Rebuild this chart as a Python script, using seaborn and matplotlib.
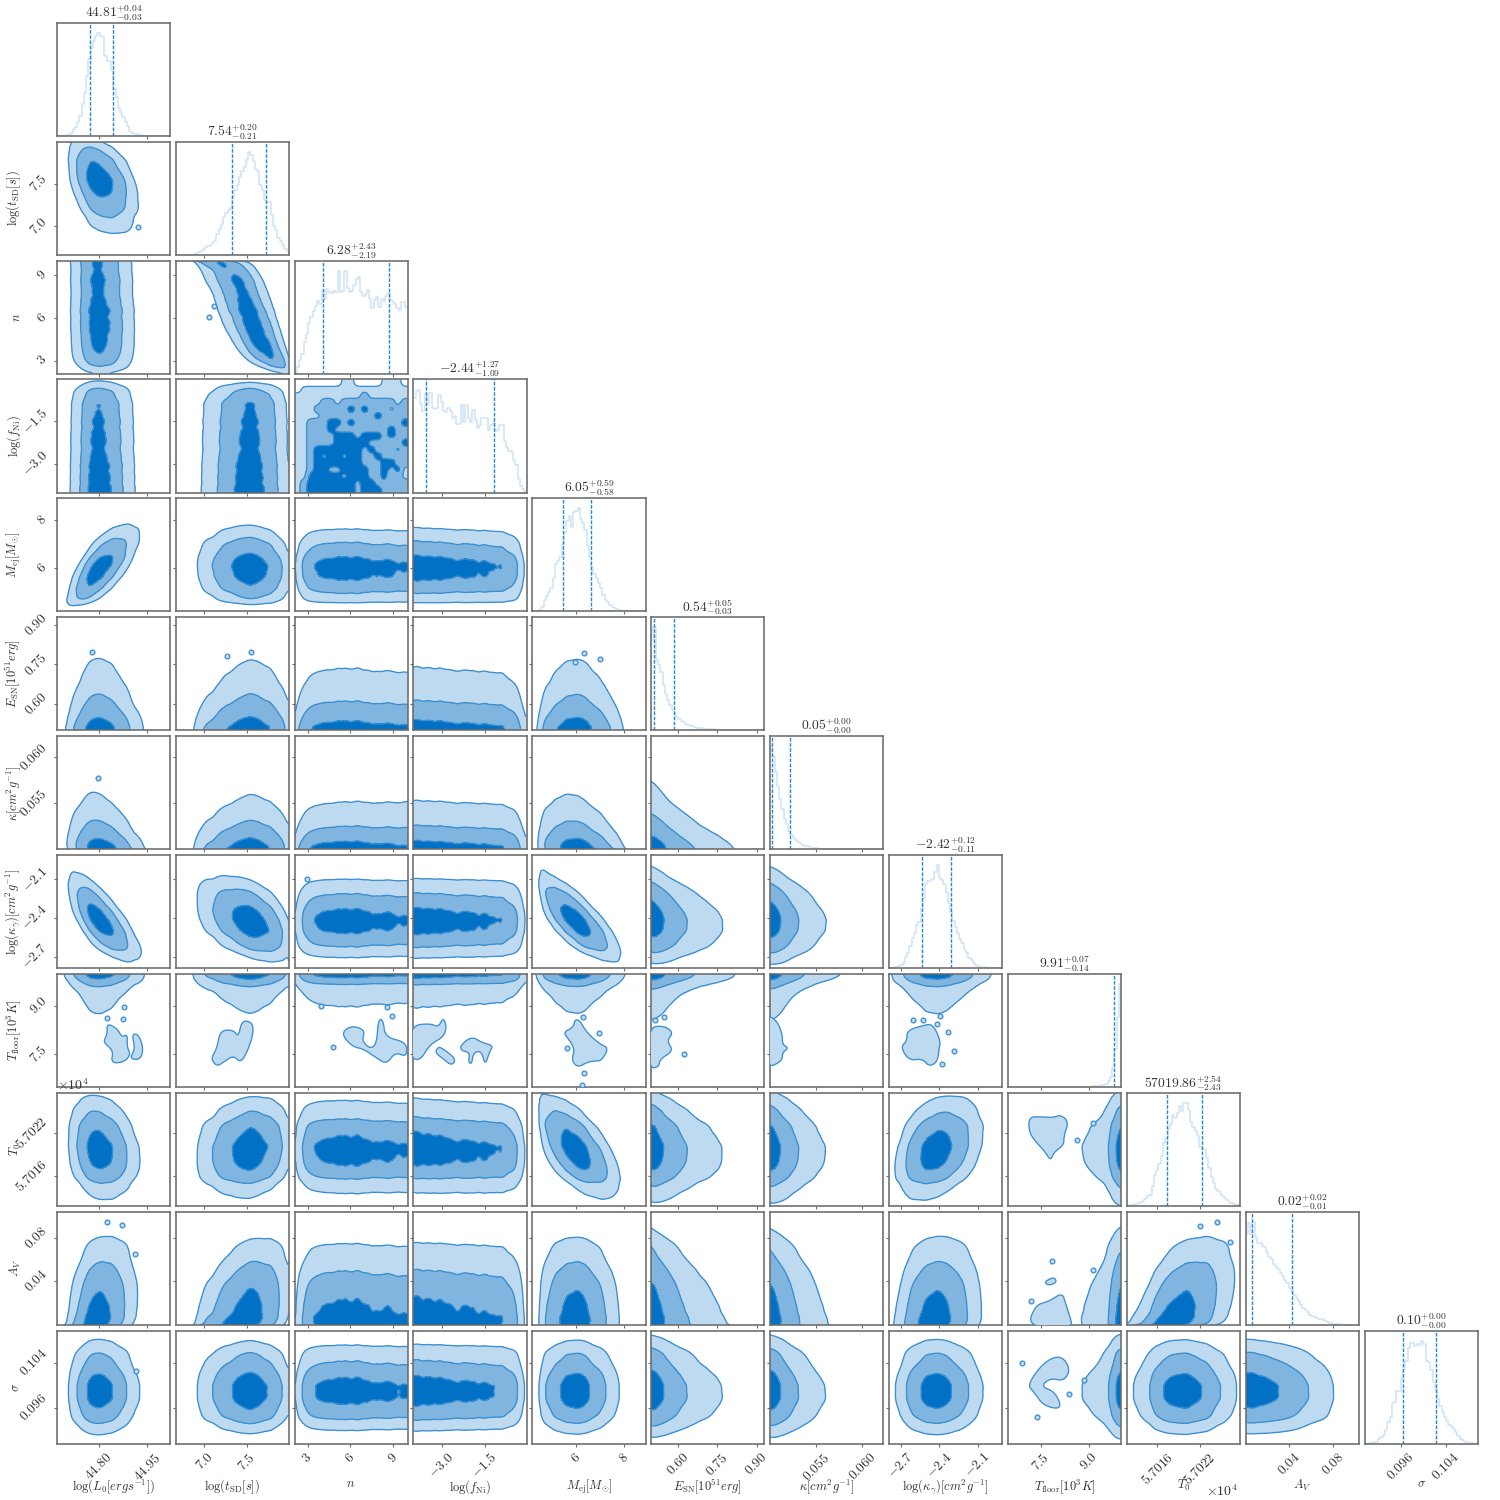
import numpy as np
import pandas as pd
import matplotlib
matplotlib.use("Agg")
import matplotlib.pyplot as plt
import seaborn as sns
from statistics import NormalDist

# ---------- values ----------
x_labels = [r'$\log(L_0[ergs^{-1}])$', r'$\log(t_{\mathrm{SD}}[s])$', r'$n$', r'$\log(f_{\mathrm{Ni}})$',
            r'$M_{\mathrm{ej}}[M_{\odot}]$', r'$E_{\mathrm{SN}}[10^{51}erg]$', r'$\kappa[cm^2g^{-1}]$',
            r'$\log(\kappa_{\gamma})[cm^2g^{-1}]$', r'$T_{\mathrm{floor}}[10^3K]$', r'$T_0$', r'$A_V$', r'$\sigma$']
titles = [r'$44.81^{+0.04}_{-0.03}$', r'$7.54^{+0.20}_{-0.21}$', r'$6.28^{+2.43}_{-2.19}$', r'$-2.44^{+1.27}_{-1.09}$',
          r'$6.05^{+0.59}_{-0.58}$', r'$0.54^{+0.05}_{-0.03}$', r'$0.05^{+0.00}_{-0.00}$', r'$-2.42^{+0.12}_{-0.11}$',
          r'$9.91^{+0.07}_{-0.14}$', r'$57019.86^{+2.54}_{-2.43}$', r'$0.02^{+0.02}_{-0.01}$', r'$0.10^{+0.00}_{-0.00}$']
ranges = [(44.669, 45.022), (6.66, 7.995), (2.09, 10.0), (-4.0, -0.02), (4.19, 8.9), (0.499, 0.93),
          (0.04996, 0.0623), (-2.79, -1.91), (6.49, 9.99), (57011.7, 57027.7), (0.0, 0.1037), (0.0896, 0.1097)]
q16 = [44.773, 7.32, 4.09, -3.55, 5.45, 0.508, 0.0502, -2.53, 9.77, 57017.4, 0.0059, 0.0965]
q84 = [44.846, 7.73, 8.71, -1.17, 6.64, 0.587, 0.0521, -2.31, 9.98, 57022.3, 0.0421, 0.1023]
tick_vals = [[44.80, 44.95], [7.0, 7.5], [3, 6, 9], [-3.0, -1.5], [6, 8], [0.60, 0.75, 0.90], [0.055, 0.060],
             [-2.7, -2.4, -2.1], [7.5, 9.0], [57016, 57022], [0.04, 0.08], [0.096, 0.104]]
tick_text = [['44.80', '44.95'], ['7.0', '7.5'], ['3', '6', '9'], ['-3.0', '-1.5'], ['6', '8'],
             ['0.60', '0.75', '0.90'], ['0.055', '0.060'], ['-2.7', '-2.4', '-2.1'], ['7.5', '9.0'],
             ['5.7016', '5.7022'], ['0.04', '0.08'], ['0.096', '0.104']]

h_L0 = [0,0,0,.3,.6,.6,2.4,6.5,8,12,18,28,38,53,68,78,84,88,91,88,87,71,66,66,58,41,34,25,21,17,12,9,4.4,2.7,2,1.8,1.2,.6,.3,0,0,0,0,0,0,0,0,0,0,0]
h_t = [0,0,0,0,0,0,0,0,.5,1,2.5,3,5,7,8,9,10,12,18,23,27,33,37,40,41,50,57,62,69,74,78,84,91,88,83,76,74,62,57,48,47,47,35,25,22,15,12,9,5,3]
h_n = [1,6,12,17,28,35,45,50,55,60,64,62,73,66,75,72,71,73,72,91,72,73,91,76,72,73,78,84,85,72,69,70,74,66,58,65,68,59,66,64,69,71,65,63,62,58,56,63,63,59]
h_f = [84,90,91,78,72,88,78,88,75,74,75,86,80,72,71,75,72,66,68,61,61,77,62,77,66,62,73,64,57,60,66,66,66,55,60,62,54,55,60,60,46,40,37,36,29,24,12,6,3,1]
h_M = [0,0,.5,1,4,10,14,17,21,30,42,45,48,60,69,80,84,75,88,89,91,82,78,72,58,48,39,33,30,25,21,15,10,8,6,4,3,2,1,.5,.3,.2,0,0,0,0,0,0,0,0]
h_E = [80,91,62,58,52,40,32,27,22,18,15,12,10,8,7,6,5,4,3.5,3,2.2,1.9,1.7,1.5,1.3,1.1,.9,.8,.7,.6,.5,.4,.35,.3,.25,.2,.15,.1,.1,.05,.05,.03,.03,.02,.02,0,0,0,0,0]
h_k = [91,82,68,56,44,36,27,22,16,13,10,8,6.5,5,4,3.2,2.6,2,1.5,1.1,.9,.7,.6,.5,.4,.35,.3,.25,.2,.18,.15,.12,.1,.1,.08,.05,.05,.05,.03,.03,0,0,0,0,0,0,0,0,0,0]
h_g = [0,0,1,1.5,2,3,5,10,13,20,27,31,38,41,53,62,74,77,78,79,85,91,80,78,74,67,58,50,42,36,31,26,22,16,13,9,7,5,3,2,1.5,1,.8,.5,.3,.2,0,0,0,0]
h_T = [0,0,0,0,0,0,0,0,0,0,0,0,0,0,0,0,0,0,0,0,.02,.02,.02,.02,.02,.02,.03,.03,.1,.12,.15,.2,.25,.3,.35,.4,.5,.6,.7,.9,1.1,1.5,2,3,5,9,17,34,62,91]
h_0 = [.2,.5,1,1.5,2,2.5,3.5,5,7,9,10,18,27,32,37,44,56,60,68,72,80,78,82,88,84,91,91,85,74,70,66,62,52,50,50,42,34,26,20,15,13,11,9,7,5,3,3,2,1,.5]
h_A = [80,90,80,91,78,72,72,70,69,64,60,58,54,52,49,46,43,40,37,33,30,26,24,21,18,15,13,11,9,8,7,6,5.5,5,4,3.5,2.5,1.8,1.2,.9,.6,.4,.3,.2,.15,.1,.1,.05,.05,0]
h_s = [0,0,.3,.8,1.3,2,4,6,8,12,19,24,36,37,47,47,58,66,73,85,89,89,86,88,87,91,88,73,72,65,55,48,40,33,28,24,20,17,15,13,10,7,4,3,2,1.5,.8,.4,.2,0]
hists = [h_L0, h_t, h_n, h_f, h_M, h_E, h_k, h_g, h_T, h_0, h_A, h_s]

# correlation seen in each panel, row by row (lower triangle)
r1 = [-.38]
r2 = [-.05, -.78]
r3 = [0, 0, 0]
r4 = [.7, -.05, 0, -.03]
r5 = [0, .05, 0, 0, 0]
r6 = [-.15, .05, .05, 0, -.15, -.05]
r7 = [-.72, -.42, 0, 0, -.76, -.1, -.05]
r8 = [0, 0, 0, 0, 0, 0, 0, 0]
r9 = [-.15, .12, -.02, -.05, -.6, -.08, -.05, .3, 0]
r10 = [.2, .25, 0, 0, 0, -.1, -.05, .1, 0, .4]
r11 = [0, 0, 0, 0, 0, -.05, -.05, 0, 0, 0, -.03]
rhos = [[], r1, r2, r3, r4, r5, r6, r7, r8, r9, r10, r11]

# patchy n / log(f_Ni) panel: shade class (0 none .. 3 darkest), top row first
n_f_shade = np.array([
 [0,0,0,0,0,0,0,1,1,0,0,0,0,1,1,1,0],
 [0,1,1,1,1,1,1,1,1,1,1,1,1,1,1,1,1],
 [1,1,1,1,1,1,1,1,1,1,2,1,1,1,1,1,1],
 [1,1,1,1,2,2,1,2,2,2,2,2,2,2,2,1,2],
 [1,1,1,2,2,2,2,2,3,2,3,2,2,2,1,2,2],
 [1,1,1,1,2,2,2,2,2,2,2,2,3,2,2,2,2],
 [1,1,2,2,2,3,3,2,3,2,2,2,2,2,2,2,3],
 [1,1,2,2,2,3,2,2,2,2,2,2,2,2,3,2,2],
 [1,1,2,2,2,2,3,3,3,2,3,3,3,2,3,2,2],
 [1,1,2,2,2,2,3,3,3,3,3,2,2,2,1,2,3],
 [1,1,2,3,3,3,3,3,3,3,2,3,2,2,2,1,2],
 [1,1,2,3,2,3,3,2,3,3,2,2,3,2,2,2,2],
 [1,1,2,3,3,3,3,3,3,3,2,2,2,3,3,2,2],
 [1,1,2,3,3,2,2,3,3,3,3,2,2,3,2,3,1],
 [1,1,3,3,3,3,3,2,3,3,3,2,2,3,1,2,1],
 [1,2,3,3,3,3,3,3,3,2,3,3,2,2,2,2,2],
 [1,2,3,3,3,3,3,3,3,2,3,3,3,2,2,2,2]], dtype=float)

# isolated low-temperature islands, (row, column): outlines in data units
islands = {
 (8, 0): [[(44.825,8.47),(44.859,8.29),(44.872,8.03),(44.890,8.13),(44.888,7.73),(44.90,7.50),(44.879,7.26),(44.838,7.23),(44.846,7.62),(44.813,7.88),(44.827,8.12)],
          [(44.903,8.13),(44.924,8.13),(44.94,7.67),(44.929,7.33),(44.896,7.37),(44.914,7.67)]],
 (8, 1): [[(7.185,8.24),(7.343,8.26),(7.40,8.03),(7.44,8.55),(7.56,8.50),(7.58,8.19),(7.52,7.67),(7.43,7.23),(7.343,7.47),(7.225,7.26),(7.146,7.13),(7.075,7.37),(7.146,7.67)]],
 (8, 2): [[(5.52,8.24),(6.2,8.39),(7.03,8.24),(6.79,7.93),(7.37,7.67),(7.83,7.83),(7.95,8.60),(8.3,8.55),(8.42,8.03),(9.92,7.88),(9.95,7.42),(9.11,7.57),(8.54,7.19),(7.72,7.42),(6.91,7.67),(6.2,7.73),(5.52,8.03)]],
 (8, 3): [[(-4.1,8.39),(-3.41,8.46),(-3.12,8.34),(-2.95,8.65),(-2.83,8.34),(-2.95,8.03),(-3.41,7.82),(-3.77,7.3),(-4.1,7.41)],
          [(-3.12,7.74),(-2.95,7.67),(-2.5,7.36),(-2.65,7.15),(-2.95,7.36),(-3.24,7.56)],
          [(-2.36,7.77),(-1.95,8.06),(-1.6,7.87),(-1.19,7.77),(-1.31,7.61),(-1.48,7.15),(-1.6,7.61),(-1.89,7.56),(-1.95,7.2),(-2.07,7.26),(-2.01,7.56),(-2.3,7.61)]],
 (8, 4): [[(5.96,8.58),(6.17,8.55),(6.45,8.18),(7.0,7.82),(7.37,7.7),(7.07,7.3),(6.75,7.3),(6.45,7.25),(6.1,7.1),(5.82,7.3),(5.96,7.67),(5.69,7.98),(5.48,8.18),(5.9,8.34)]],
 (8, 5): [[(.49,8.34),(.546,8.39),(.584,8.18),(.558,7.92),(.584,7.61),(.533,7.36),(.527,7.1),(.49,7.08)]],
 (8, 6): [[(.0495,8.73),(.0507,8.55),(.0513,8.13),(.0513,7.8),(.052,7.7),(.0513,7.56),(.0513,7.3),(.0495,7.05)]],
 (8, 7): [[(-2.65,8.24),(-2.53,8.39),(-2.45,8.45),(-2.39,7.93),(-2.40,7.67),(-2.415,7.26),(-2.48,7.13),(-2.53,7.37),(-2.635,7.31),(-2.7,7.73),(-2.65,7.92)]],
 (9, 8): [[(7.14,57024.3),(7.5,57024.3),(7.91,57024.2),(8.12,57024.6),(8.37,57023.6),(8.22,57021.6),(8.22,57020.3),(7.91,57019.3),(7.81,57018.1),(7.65,57019.3),(7.29,57021.1),(7.14,57022.3)]],
 (10, 8): [[(7.6,.0392),(7.91,.044),(8.01,.0392),(7.76,.036)],
           [(7.09,-.002),(7.34,.0183),(7.76,.0215),(8.17,.0296),(8.27,.02),(8.43,.0055),(8.48,-.002)]],
 (11, 8): [[(7.09,.1001),(7.6,.1041),(8.12,.1054),(8.43,.1029),(8.22,.1007),(7.81,.1013),(7.5,.0998),(7.96,.0988),(8.17,.0957),(7.6,.0963),(7.29,.0988)]],
}

# tiny isolated contours, (row, column): centres in data units
specks = {
 (1, 0): [(44.924, 6.987)],
 (2, 1): [(7.116, 6.8), (7.05, 6.05)],
 (5, 0): [(44.778, .797)],
 (5, 1): [(7.55, .796), (7.27, .783)],
 (5, 4): [(6.35, .795), (5.96, .758), (7.0, .771)],
 (6, 0): [(44.799, .0577)],
 (7, 2): [(2.95, -2.1)],
 (8, 0): [(44.879, 8.96), (44.877, 8.6), (44.825, 8.62)],
 (8, 2): [(4.81, 7.73), (3.95, 9.0), (8.54, 8.96), (8.88, 8.68)],
 (8, 4): [(6.28, 8.65), (6.96, 8.15), (5.62, 7.69), (6.34, 6.94), (6.25, 6.56)],
 (8, 5): [(.546, 8.65), (.514, 8.55), (.624, 7.51)],
 (8, 7): [(-2.39, 8.68), (-2.415, 8.45), (-2.6, 8.55), (-2.526, 8.55), (-2.33, 8.19), (-2.286, 7.62), (-2.376, 7.21)],
 (9, 8): [(8.63, 57021), (9.13, 57023.5)],
 (10, 0): [(44.827, .0945), (44.873, .0912), (44.914, .0645)],
 (10, 8): [(7.86, .0583), (9.11, .0499), (7.21, .0222)],
 (10, 9): [(57024.4, .094), (57022.1, .0908), (57026.3, .0763)],
 (11, 0): [(44.917, .1026)],
 (11, 8): [(6.93, .1040), (8.37, .0984), (8.84, .1009), (7.38, .0943)],
}

# ---------- styling ----------
sns.set_theme(style="ticks", rc={"axes.grid": False})
plt.rcParams.update({"font.family": "serif", "font.serif": ["cmr10", "DejaVu Serif"], "mathtext.fontset": "cm",
                     "axes.formatter.use_mathtext": True, "axes.unicode_minus": False})
FRAME = "#6b6b6b"
TEXT = "#333333"
FILLS = ["#bedaf0", "#7fb5de", "#0071c5"]
EDGE = "#3b8ed0"
HIST = "#cfe3f6"
DASH = "#2288d4"
FS = 9.0
N = len(x_labels)
PW, PS, X0, Y0 = 113.2, 118.9, 56.7, 22.7
_nd = NormalDist()
_u_tab = np.linspace(1e-5, 1 - 1e-5, 4001)
_z_tab = np.array([_nd.inv_cdf(float(p)) for p in _u_tab])


def smooth(a, kernel=(.06, .24, .4, .24, .06)):
    k = np.asarray(kernel)
    pad = len(k) // 2
    return np.convolve(np.pad(a, pad, mode="edge"), k, mode="valid")


def marginal(i, size=170):
    lo, hi = ranges[i]
    edges = np.linspace(lo, hi, 51)
    centers = (edges[:-1] + edges[1:]) / 2
    grid = np.linspace(lo, hi, size)
    dens = np.interp(grid, centers, smooth(np.asarray(hists[i], float)))
    cdf = np.cumsum(dens)
    cdf = cdf / cdf[-1]
    z = np.interp(np.clip(cdf - 0.5 * dens / dens.sum(), 1e-5, 1 - 1e-5), _u_tab, _z_tab)
    return grid, dens, z


MARG = [marginal(i) for i in range(N)]


def mass_levels(d):
    s = np.sort(d.ravel())[::-1]
    c = np.cumsum(s) / s.sum()
    return [s[np.searchsorted(c, m)] for m in (0.99, 0.885, 0.42)]


def rounded(poly, passes=3):
    p = np.asarray(poly, float)
    for _ in range(passes):
        q = np.roll(p, -1, axis=0)
        p = np.column_stack([0.75 * p + 0.25 * q, 0.25 * p + 0.75 * q]).reshape(-1, 2)
    return p


def draw_pair(ax, row, col):
    if (row, col) == (3, 2):
        gx0 = np.linspace(*ranges[2], n_f_shade.shape[1])
        gy0 = np.linspace(ranges[3][1], ranges[3][0], n_f_shade.shape[0])
        fine = np.kron(n_f_shade, np.ones((6, 6)))
        k = np.array([.06, .1, .14, .2, .14, .1, .06])
        k = k / k.sum()
        for _ in range(2):
            fine = np.apply_along_axis(lambda v: np.convolve(np.pad(v, 3, mode="edge"), k, mode="valid"), 0, fine)
            fine = np.apply_along_axis(lambda v: np.convolve(np.pad(v, 3, mode="edge"), k, mode="valid"), 1, fine)
        gx = np.linspace(gx0[0], gx0[-1], fine.shape[1])
        gy = np.linspace(gy0[0], gy0[-1], fine.shape[0])
        lv = [0.62, 1.4, 2.42]
        ax.contourf(gx, gy, fine, levels=lv + [9], colors=FILLS)
        ax.contour(gx, gy, fine, levels=lv, colors=EDGE, linewidths=0.95)
        return
    gx, fx, zx = MARG[col]
    gy, fy, zy = MARG[row]
    r = rhos[row][col]
    Zx, Zy = np.meshgrid(zx, zy)
    Fx, Fy = np.meshgrid(fx, fy)
    cop = np.exp(-(r * r * (Zx ** 2 + Zy ** 2) - 2 * r * Zx * Zy) / (2 * (1 - r * r))) / np.sqrt(1 - r * r)
    d = Fx * Fy * cop
    lv = mass_levels(d)
    ax.contourf(gx, gy, d, levels=lv + [d.max() * 1.01], colors=FILLS)
    ax.contour(gx, gy, d, levels=lv, colors=EDGE, linewidths=0.95)
    for poly in islands.get((row, col), []):
        p = rounded(poly)
        ax.fill(p[:, 0], p[:, 1], facecolor=FILLS[0], edgecolor=EDGE, linewidth=0.95, zorder=3)
    if (row, col) in specks:
        sx, sy = zip(*specks[(row, col)])
        ax.scatter(sx, sy, s=12, facecolor=FILLS[0], edgecolor=EDGE, linewidth=0.9, zorder=3)
    ax.set_xlim(*ranges[col])
    ax.set_ylim(*ranges[row])


def style_axes(ax, row, col, diag):
    for s in ax.spines.values():
        s.set_color(FRAME)
        s.set_linewidth(1.15)
    ax.set_xlim(*ranges[col])
    ax.set_xticks(tick_vals[col])
    ax.set_xticklabels([])
    ax.tick_params(axis="both", length=2.3, width=0.8, color=FRAME, labelcolor=TEXT, labelsize=9.8, pad=2.5)
    if row == N - 1:
        ax.set_xticklabels(["$%s$" % t for t in tick_text[col]], rotation=45, ha="center")
        ax.set_xlabel(x_labels[col], fontsize=FS, color=TEXT)
        ax.xaxis.set_label_coords(0.5, -0.3)
    if diag:
        ax.set_yticks([])
        ax.set_ylabel("")
    else:
        ax.set_ylim(*ranges[row])
        ax.set_yticks(tick_vals[row])
        ax.set_yticklabels([])
        if col == 0:
            ax.set_yticklabels(["$%s$" % t for t in tick_text[row]], rotation=45, va="center")
            ax.set_ylabel(x_labels[row], fontsize=FS, color=TEXT)
            ax.yaxis.set_label_coords(-0.3, 0.5)


fig = plt.figure(figsize=(15, 15), dpi=100, facecolor="white")
for row in range(N):
    for col in range(row + 1):
        rect = [(X0 + PS * col) / 1500, 1 - (Y0 + PS * row + PW) / 1500, PW / 1500, PW / 1500]
        ax = fig.add_axes(rect)
        if row == col:
            edges = np.linspace(*ranges[col], 51)
            frame = pd.DataFrame({"value": (edges[:-1] + edges[1:]) / 2, "height": hists[col]})
            sns.histplot(frame, x="value", weights="height", bins=50, binrange=ranges[col], element="step", fill=False,
                         color=HIST, linewidth=1.1, ax=ax, legend=False)
            ax.set_ylim(0, 100)
            ax.axvline(q16[col], color=DASH, lw=1.0, ls=(0, (2.6, 1.1)))
            ax.axvline(q84[col], color=DASH, lw=1.0, ls=(0, (2.6, 1.1)))
            ax.set_title(titles[col], fontsize=9.8, color=TEXT, pad=0.2)
            ax.set_xlabel("")
        else:
            draw_pair(ax, row, col)
        style_axes(ax, row, col, row == col)
        if (row, col) == (9, 0):
            ax.text(0, 1.0, r'$\times 10^{4}$', transform=ax.transAxes, ha="left", va="bottom", fontsize=10, color=TEXT)
        if (row, col) == (11, 9):
            ax.text(0.98, -0.49, r'$\times 10^{4}$', transform=ax.transAxes, ha="right", va="bottom", fontsize=10, color=TEXT)

fig.savefig("out.png", dpi=100, facecolor="white")
